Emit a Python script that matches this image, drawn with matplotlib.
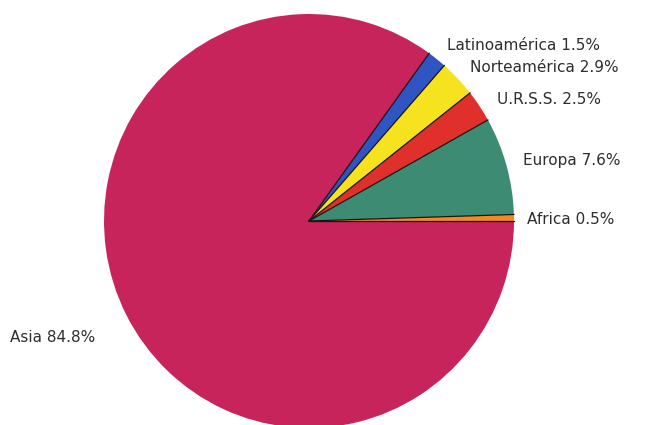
import numpy as np
import matplotlib
matplotlib.use('Agg')
import matplotlib.pyplot as plt

# datos: produccion por region (%), en el orden en que se dibujan (antihorario desde 0 grados)
regiones = ['Africa', 'Europa', 'U.R.S.S.', 'Norteamérica', 'Latinoamérica', 'Asia']
valores = [0.5, 7.6, 2.5, 2.9, 1.5, 84.8]
colores = ['#f08a24', '#3d8b72', '#e0302c', '#f6e21e', '#2f55c2', '#c6245a']

W, H = 653, 425
cx, cy, rx, ry = 309, 221, 205, 207   # centro y radios en pixeles

fig = plt.figure(figsize=(W / 100, H / 100), dpi=100)
ax = fig.add_axes([0, 0, 1, 1])

ax.pie(valores, colors=colores, startangle=0, counterclock=True,
       normalize=True, wedgeprops=dict(linewidth=0))

ax.set_xlim(-cx / rx, (W - cx) / rx)
ax.set_ylim(-(H - cy) / ry, cy / ry)
ax.set_aspect('auto')
ax.axis('off')

# lineas finas entre sectores (no en el borde)
frac = np.cumsum([0] + valores) / sum(valores)
for f in frac[:-1]:
    a = 2 * np.pi * f
    ax.plot([0, np.cos(a)], [0, np.sin(a)], color='#1a1414', lw=0.9)

# etiquetas: posicion en pixeles (izquierda, centro vertical)
etiquetas = ['Africa 0.5%', 'Europa 7.6%', 'U.R.S.S. 2.5%', 'Norteamérica 2.9%',
             'Latinoamérica 1.5%', 'Asia 84.8%']
pos = [(527, 220), (523, 160), (497, 100), (470, 68), (447, 45), (10, 338)]
for txt, (px, py) in zip(etiquetas, pos):
    ax.text((px - cx) / rx, (cy - py) / ry, txt, ha='left', va='center',
            fontsize=11, family='DejaVu Sans', color='#2e2e2e')

fig.savefig('out.png', dpi=100)
